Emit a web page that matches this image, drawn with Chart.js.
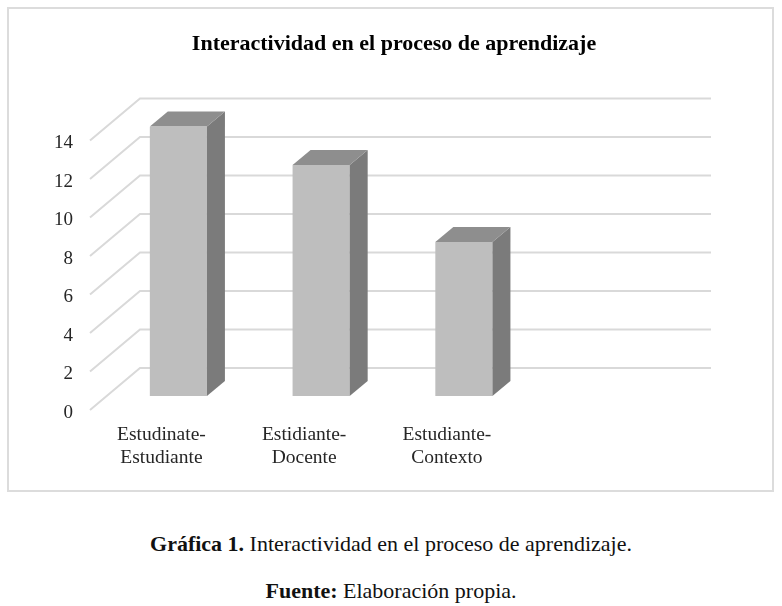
<!DOCTYPE html>
<html lang="es">
<head>
<meta charset="UTF-8" />
<title>Interactividad en el proceso de aprendizaje</title>
<script src="https://cdn.jsdelivr.net/npm/chart.js@4.4.1/dist/chart.umd.min.js"></script>
<style>
  body { margin: 0; background: #fff; font-family: "Liberation Serif", serif; }
  #box { position: absolute; left: 7px; top: 7px; width: 763px; height: 481px; border: 2px solid #dcdcdc; }
  #wrap { position: absolute; left: 1px; top: 0px; width: 761px; height: 480px; }
  .cap { position: absolute; left: 0; width: 782px; text-align: center; font-size: 22px; line-height: 25px; color: #111; }
</style>
</head>
<body>
<div id="box"><div id="wrap"><canvas id="chart"></canvas></div></div>
<div class="cap" style="top:531px"><b>Gráfica 1.</b> Interactividad en el proceso de aprendizaje.</div>
<div class="cap" style="top:578px"><b>Fuente:</b> Elaboración propia.</div>

<script>
  const categories = [["Estudinate-", "Estudiante"], ["Estidiante-", "Docente"], ["Estudiante-", "Contexto"], ""];
  const values = [14, 12, 8, null];
  const yTicks = { min: 0, max: 14, step: 2 };

  // perspective offsets (px) relative to the bar front plane
  const FRONT = { dx: -17, dy: 14 };
  const BACK = { dx: 33, dy: -28 };
  const DEPTH = { dx: 18, dy: -15 };

  const perspective = {
    id: "perspective",
    beforeDatasetsDraw(chart) {
      const { ctx, chartArea, scales } = chart;
      ctx.save();
      ctx.strokeStyle = "#d9d9d9";
      ctx.lineWidth = 2;
      scales.y.ticks.forEach((t) => {
        const y = scales.y.getPixelForValue(t.value);
        ctx.beginPath();
        ctx.moveTo(chartArea.left + FRONT.dx, y + FRONT.dy);
        ctx.lineTo(chartArea.left + BACK.dx, y + BACK.dy);
        ctx.lineTo(chartArea.right + BACK.dx, y + BACK.dy);
        ctx.stroke();
      });
      ctx.restore();
    },
    afterDatasetsDraw(chart) {
      const { ctx } = chart;
      const meta = chart.getDatasetMeta(0);
      ctx.save();
      meta.data.forEach((bar, i) => {
        if (values[i] == null) return;
        const { x, y, base, width } = bar.getProps(["x", "y", "base", "width"], true);
        const l = x - width / 2, r = x + width / 2;
        // side face
        ctx.fillStyle = "#7b7b7b";
        ctx.beginPath();
        ctx.moveTo(r, base);
        ctx.lineTo(r, y);
        ctx.lineTo(r + DEPTH.dx, y + DEPTH.dy);
        ctx.lineTo(r + DEPTH.dx, base + DEPTH.dy);
        ctx.closePath();
        ctx.fill();
        // top face
        ctx.fillStyle = "#8e8e8e";
        ctx.beginPath();
        ctx.moveTo(l, y);
        ctx.lineTo(r, y);
        ctx.lineTo(r + DEPTH.dx, y + DEPTH.dy);
        ctx.lineTo(l + DEPTH.dx, y + DEPTH.dy);
        ctx.closePath();
        ctx.fill();
      });
      ctx.restore();
    }
  };

  new Chart(document.getElementById("chart"), {
    type: "bar",
    data: {
      labels: categories,
      datasets: [{
        data: values,
        backgroundColor: "#bebebe",
        categoryPercentage: 0.8,
        barPercentage: 0.5
      }]
    },
    options: {
      responsive: true,
      maintainAspectRatio: false,
      animation: false,
      layout: { padding: { left: 20, right: 13, top: 0, bottom: 0 } },
      plugins: {
        legend: { display: false },
        tooltip: { enabled: false },
        title: {
          display: true,
          text: "Interactividad en el proceso de aprendizaje",
          color: "#000",
          font: { family: "Liberation Serif", size: 22, weight: "bold" },
          padding: { top: 22, bottom: 69 }
        }
      },
      scales: {
        x: {
          grid: { display: false, drawTicks: false },
          border: { display: false },
          ticks: {
            color: "#262626",
            font: { family: "Liberation Serif", size: 19.5 },
            padding: 27,
            labelOffset: FRONT.dx,
            maxRotation: 0
          },
          afterFit: (s) => { s.height = 93; }
        },
        y: {
          min: yTicks.min,
          max: yTicks.max,
          grid: { display: false, drawTicks: false },
          border: { display: false },
          ticks: {
            stepSize: yTicks.step,
            color: "#262626",
            font: { family: "Liberation Serif", size: 19 },
            padding: 34,
            labelOffset: FRONT.dy + 3
          },
          afterFit: (s) => { s.width = 77; }
        },
        // empty right axis, only reserves the space right of the back wall
        yRight: {
          position: "right",
          display: true,
          grid: { display: false, drawTicks: false },
          border: { display: false },
          ticks: { display: false },
          afterFit: (s) => { s.width = 80; }
        }
      }
    },
    plugins: [perspective]
  });
</script>
</body>
</html>
